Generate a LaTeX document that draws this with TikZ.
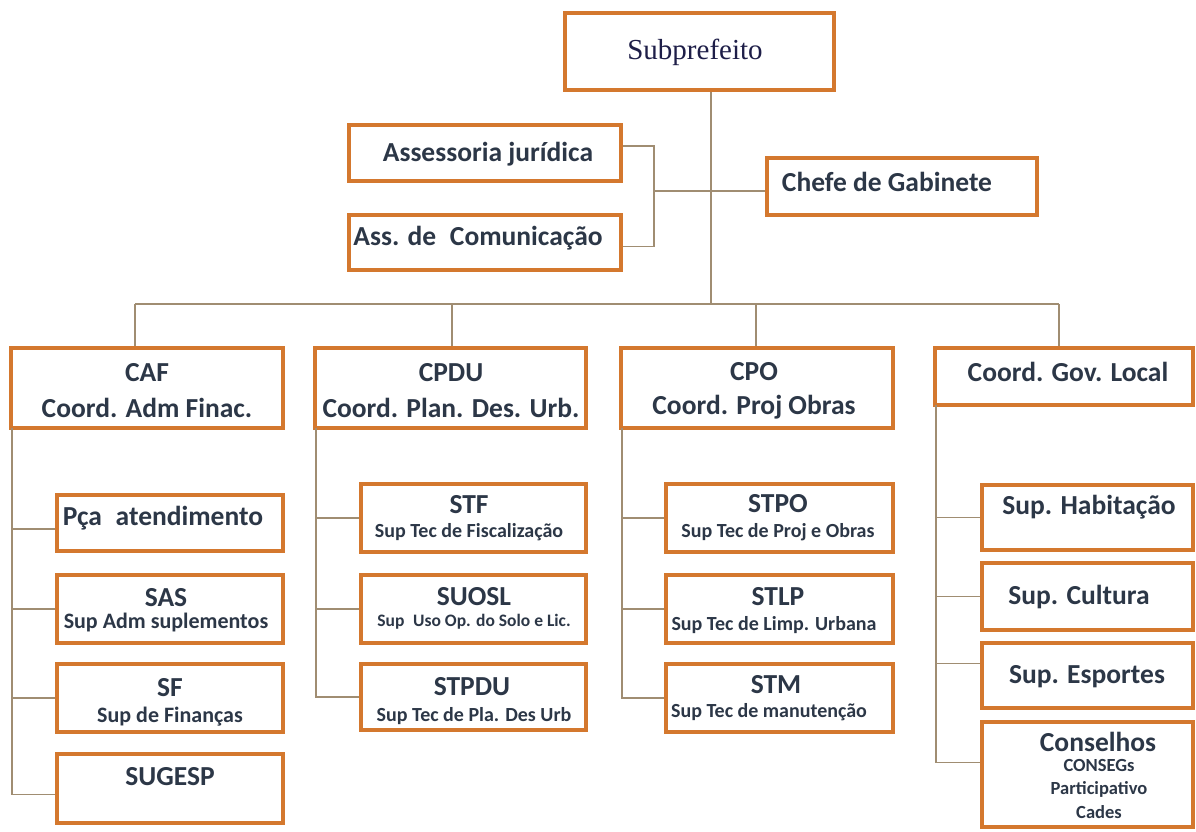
\documentclass[tikz,border=0pt]{standalone}
\usepackage{fontspec}
\setmainfont{Carlito}
\newfontfamily\serifx{Liberation Serif}
\definecolor{boxc}{HTML}{D4782E}
\definecolor{linec}{HTML}{A08D72}
\definecolor{txtc}{HTML}{2C3747}
\definecolor{subc}{HTML}{1E1E48}
\tikzset{
  box/.style={draw=boxc, line width=3.2pt, fill=white, inner sep=0pt},
  conn/.style={draw=linec, line width=1.3pt},
  big/.style={font=\fontsize{27.5}{29}\selectfont\bfseries, text=txtc, inner sep=0pt},
  mid/.style={font=\fontsize{22}{24}\selectfont\bfseries, text=txtc, inner sep=0pt},
  sml/.style={font=\fontsize{20}{22}\selectfont\bfseries, text=txtc, inner sep=0pt},
  tiny/.style={font=\fontsize{17.5}{19}\selectfont\bfseries, text=txtc, inner sep=0pt},
  cns/.style={font=\fontsize{18.5}{20}\selectfont\bfseries, text=txtc, inner sep=0pt},
  ser/.style={font=\fontsize{29}{31}\selectfont\serifx, text=subc, inner sep=0pt}
}
\newcommand\bx[5]{\node[box, minimum width={#4-#2}, minimum height={#5-#3}] (#1) at ({(#2+#4)/2},{(#3+#5)/2}) {};}
\begin{document}
\begin{tikzpicture}[x=1pt,y=-1pt]
\useasboundingbox[fill=white] (0,0) rectangle (1196,831);
% connector joints
\coordinate (bj) at (711,304);
\coordinate (dcaf) at (135,304);
\coordinate (dcpdu) at (452,304);
\coordinate (dcpo) at (756,304);
\coordinate (dcgl) at (1059,304);
\coordinate (br) at (654,191);
\coordinate (vcaf) at (12,428);
\coordinate (vcpdu) at (316,428);
\coordinate (vcpo) at (622,428);
\coordinate (vcgl) at (936,405);
% boxes
\bx{sub}{565}{13}{834}{90}
\bx{asj}{349}{125}{621}{181}
\bx{asc}{349}{215}{621}{270}
\bx{chefe}{767}{158}{1037}{215}
\bx{caf}{11}{348}{283}{428}
\bx{cpdu}{315}{348}{586}{428}
\bx{cpo}{621}{348}{893}{428}
\bx{cgl}{935}{348}{1193}{405}
\bx{pca}{57}{495}{283}{551}
\bx{sas}{57}{575}{283}{643}
\bx{sf}{57}{664}{283}{732}
\bx{sugesp}{57}{754}{283}{823}
\bx{stf}{361}{484}{586}{552}
\bx{suosl}{361}{575}{586}{643}
\bx{stpdu}{361}{664}{586}{730}
\bx{stpo}{666}{484}{893}{552}
\bx{stlp}{666}{575}{893}{643}
\bx{stm}{666}{664}{893}{732}
\bx{hab}{982}{485}{1193}{550}
\bx{cul}{982}{563}{1193}{630}
\bx{esp}{982}{643}{1193}{708}
\bx{cons}{982}{722}{1193}{827}
% lines
\draw[conn] (bj |- sub.south) -- (bj);
\draw[conn] (dcaf) -- (dcgl);
\draw[conn] (dcaf) -- (dcaf |- caf.north);
\draw[conn] (dcpdu) -- (dcpdu |- cpdu.north);
\draw[conn] (dcpo) -- (dcpo |- cpo.north);
\draw[conn] (dcgl) -- (dcgl |- cgl.north);
\draw[conn] ([yshift=7pt]asj.east) -| (br) |- ([yshift=-4pt]asc.east);
\draw[conn] (br) -- (br -| chefe.west);
% CAF column
\draw[conn] (vcaf) |- ([yshift=-6pt]sugesp.west);
\draw[conn] (vcaf |- pca.west) ++(0,6) -- ([yshift=-6pt]pca.west);
\draw[conn] (vcaf |- sas.west) -- (sas.west);
\draw[conn] (vcaf |- sf.west) -- (sf.west);
% CPDU column
\draw[conn] (vcpdu) |- (stpdu.west);
\draw[conn] (vcpdu |- stf.west) -- (stf.west);
\draw[conn] (vcpdu |- suosl.west) -- (suosl.west);
% CPO column
\draw[conn] (vcpo) |- (stm.west);
\draw[conn] (vcpo |- stpo.west) -- (stpo.west);
\draw[conn] (vcpo |- stlp.west) -- (stlp.west);
% CGL column
\draw[conn] (vcgl) |- ([yshift=12pt]cons.west);
\draw[conn] (vcgl |- hab.west) -- (hab.west);
\draw[conn] (vcgl |- cul.west) -- (cul.west);
\draw[conn] ([yshift=12pt]vcgl |- esp.west) -- ([yshift=12pt]esp.west);
% texts
\node[ser] (tsub) at (695,52) {Subprefeito};
\node[big] (tasj) at (488,154) {Assessoria jurídica};
\node[big] (tasc) at (478,238) {Ass. de\enspace Comunicação};
\node[big] (tchefe) at (887,182) {Chefe de Gabinete};
\node[big] (tcaf1) at (147,373) {CAF};
\node[big] (tcaf2) at (147,408) {Coord. Adm Finac.};
\node[big] (tcpdu1) at (451,373) {CPDU};
\node[big] (tcpdu2) at (451,408) {Coord. Plan. Des. Urb.};
\node[big] (tcpo1) at (754,372) {CPO};
\node[big] (tcpo2) at (754,407) {Coord. Proj Obras};
\node[big] (tcgl) at (1068,372) {Coord. Gov. Local};
\node[big] (tpca) at (163,518) {Pça\enspace atendimento};
\node[big] (tsas1) at (166,598) {SAS};
\node[mid] (tsas2) at (166,622) {Sup Adm suplementos};
\node[big] (tsf1) at (170,688) {SF};
\node[mid] (tsf2) at (170,717) {Sup de Finanças};
\node[big] (tsug) at (170,777) {SUGESP};
\node[big] (tstf1) at (469,505) {STF};
\node[sml] (tstf2) at (469,532) {Sup Tec de Fiscalização};
\node[big] (tsuo1) at (474,597) {SUOSL};
\node[tiny] (tsuo2) at (474,622) {Sup\enspace Uso Op. do Solo e Lic.};
\node[big] (tstp1) at (472,687) {STPDU};
\node[sml] (tstp2) at (474,716) {Sup Tec de Pla. Des Urb};
\node[big] (tstpo1) at (778,504) {STPO};
\node[sml] (tstpo2) at (778,532) {Sup Tec de Proj e Obras};
\node[big] (tstlp1) at (778,597) {STLP};
\node[sml] (tstlp2) at (774,625) {Sup Tec de Limp. Urbana};
\node[big] (tstm1) at (776,685) {STM};
\node[sml] (tstm2) at (769,712) {Sup Tec de manutenção};
\node[big] (thab) at (1089,507) {Sup. Habitação};
\node[big] (tcul) at (1079,597) {Sup. Cultura};
\node[big] (tesp) at (1087,677) {Sup. Esportes};
\node[big] (tcons) at (1098,742) {Conselhos};
\node[cns] (tcons2) at (1099,765) {CONSEGs};
\node[cns] (tcons3) at (1099,789) {Participativo};
\node[cns] (tcons4) at (1099,812) {Cades};
\end{tikzpicture}
\end{document}
